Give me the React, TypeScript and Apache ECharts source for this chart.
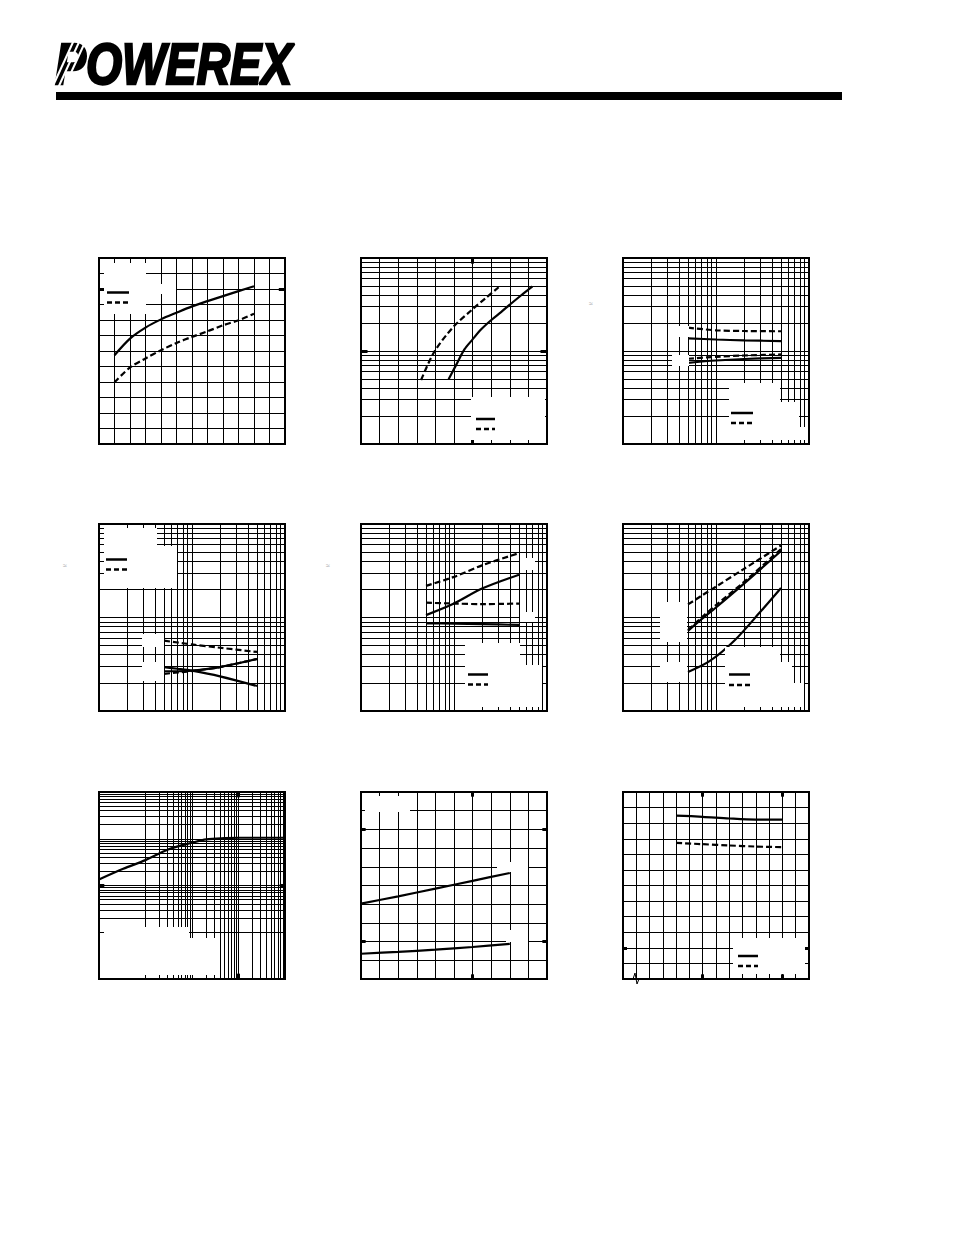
import React, { useEffect, useRef } from "react";
import * as echarts from "echarts";

// ---------- data ----------
// Chart 1 (linear / linear)
const c1X = [1, 2, 3, 4, 5, 6, 7, 8, 9, 10];
const c1Solid = [5.73, 6.8, 7.51, 8.04, 8.47, 8.88, 9.22, 9.54, 9.86, 10.18];
const c1Dashed = [3.98, 4.94, 5.52, 6.05, 6.52, 6.91, 7.27, 7.66, 7.98, 8.41];

// Chart 2 (linear x / log y)
const c2DashedX = [3.23, 3.94, 4.96, 5.97, 6.7, 7.4];
const c2DashedY = [4.88, 9.8, 18.1, 27.8, 37, 48.5];
const c2SolidX = [4.71, 5.11, 5.56, 5.97, 6.45, 6.99, 7.53, 8.06, 8.6, 9.22];
const c2SolidY = [4.96, 7.05, 10.4, 13.1, 17, 21.4, 26.2, 32.2, 39.5, 49.5];

// Chart 3 (log / log)
const c3X = [5, 10, 20, 50];
const c3UpperDashed = [17.8, 16.7, 16.4, 16.3];
const c3UpperSolid = [13.7, 13.3, 13.0, 12.8];
const c3LowerDashed = [8.25, 8.66, 8.95, 9.18];
const c3LowerSolid = [7.47, 7.9, 8.2, 8.45];

// Chart 4 (log / log)
const c4X = [5, 7, 10, 20, 50];
const c4UpperDashed = [5.65, 5.4, 5.15, 4.75, 4.28];
const c4FallingSolid = [2.94, 2.83, 2.7, 2.35, 1.85];
const c4RisingSolid = [2.66, 2.66, 2.7, 2.95, 3.6];
const c4LowerDashed = [2.5, 2.58, 2.68, 2.95, 3.6];

// Chart 5 (log / log)
const c5X = [5, 10, 20, 50];
const c5UpperDashed = [21.8, 27.2, 36.1, 48.8];
const c5UpperSolid = [10.6, 14.1, 20.4, 28.7];
const c5LowerDashed = [14.4, 14.1, 13.9, 14.1];
const c5LowerSolid = [8.67, 8.6, 8.5, 8.32];

// Chart 6 (log / log)
const c6X = [5, 7, 10, 20, 50];
const c6TopDashed = [13.8, 17.1, 21.4, 33.1, 58.9];
const c6MidDashed = [7.35, 10.0, 13.6, 24.0, 54.0];
const c6UpperSolid = [7.2, 9.6, 12.8, 23.0, 51.4];
const c6LowerSolidX = [5, 8.6, 16, 30, 50];
const c6LowerSolid = [2.61, 3.43, 5.75, 11.5, 20.7];

// Chart 7 (log / log, 4 decades)
const c7X = [0.001, 0.00332, 0.01, 0.0306, 0.1, 0.203, 0.5, 1, 10];
const c7Y = [0.1346, 0.2275, 0.349, 0.59, 0.82, 0.968, 1.03, 1.05, 1.05];

// Chart 8 (linear / linear)
const c8X = [0, 2, 4, 6, 8];
const c8Upper = [4.03, 4.42, 4.83, 5.25, 5.67];
const c8Lower = [1.35, 1.45, 1.57, 1.71, 1.88];

// Chart 9 (linear / linear)
const c9X = [4, 6, 8, 10, 12];
const c9Solid = [10.49, 10.41, 10.3, 10.23, 10.23];
const c9Dashed = [8.74, 8.65, 8.57, 8.5, 8.46];

const logoText = "POWEREX";

// ---------- helpers ----------
const pairs = (xs: number[], ys: number[]) => xs.map((x, i) => [x, ys[i]]);

// minor grid lines 2..9 of each decade between 10^e0 and 10^e1
const logMinors = (e0: number, e1: number) => {
  const out: number[] = [];
  for (let e = e0; e < e1; e++) {
    for (let k = 2; k <= 9; k++) out.push(k * Math.pow(10, e));
  }
  return out;
};

type AxisDef = { type: "value" | "log"; min: number; max: number; interval?: number };
const lin = (min: number, max: number): AxisDef => ({ type: "value", min, max, interval: 1 });
const lg = (min: number, max: number): AxisDef => ({ type: "log", min, max });

const grids = [
  { left: 99, top: 258, h: 186, x: lin(0, 12), y: lin(0, 12) },
  { left: 361, top: 258, h: 186, x: lin(0, 10), y: lg(1, 100) },
  { left: 623, top: 258, h: 186, x: lg(1, 100), y: lg(1, 100) },
  { left: 99, top: 524, h: 187, x: lg(1, 100), y: lg(1, 100) },
  { left: 361, top: 524, h: 187, x: lg(1, 100), y: lg(1, 100) },
  { left: 623, top: 524, h: 187, x: lg(1, 100), y: lg(1, 100) },
  { left: 99, top: 792, h: 187, x: lg(0.001, 10), y: lg(0.001, 10) },
  { left: 361, top: 792, h: 187, x: lin(0, 10), y: lin(0, 10) },
  { left: 623, top: 792, h: 187, x: lin(0, 14), y: lin(0, 12) },
];

// bold tick marks (data coordinates of short segments)
const boldTicks: number[][][][] = [
  [[[0, 10], [0.4, 10]], [[11.6, 10], [12, 10]]],
  [[[0, 10], [0.35, 10]], [[9.65, 10], [10, 10]], [[6, 1], [6, 1.15]], [[6, 87], [6, 100]]],
  [], [], [], [],
  [[[1, 0.001], [1, 0.0013]], [[1, 7.7], [1, 10]], [[0.001, 0.1], [0.0013, 0.1]], [[7.7, 0.1], [10, 0.1]]],
  [[[6, 0], [6, 0.25]], [[6, 9.75], [6, 10]], [[0, 2], [0.25, 2]], [[9.75, 2], [10, 2]], [[0, 8], [0.25, 8]], [[9.75, 8], [10, 8]]],
  [[[6, 0], [6, 0.3]], [[6, 11.7], [6, 12]], [[12, 0], [12, 0.3]], [[12, 11.7], [12, 12]], [[0, 2], [0.3, 2]], [[13.7, 2], [14, 2]]],
];

const axisOpt = (a: AxisDef, gi: number) => ({
  gridIndex: gi,
  type: a.type,
  min: a.min,
  max: a.max,
  ...(a.type === "value" ? { interval: a.interval } : { logBase: 10 }),
  axisLine: { show: false },
  axisTick: { show: false },
  axisLabel: { show: false },
  splitLine: { show: true, lineStyle: { color: "#000", width: 1 } },
});

const curve = (gi: number, xs: number[], ys: number[], dashed: boolean) => ({
  type: "line",
  xAxisIndex: gi,
  yAxisIndex: gi,
  data: pairs(xs, ys),
  smooth: 0.3,
  symbol: "none",
  silent: true,
  z: 3,
  lineStyle: { color: "#000", width: 2.2, type: dashed ? [6, 3] : "solid" },
});

// white areas where the original labels were removed (pixel boxes)
const whiteBoxes = [
  [104, 263, 42, 51], [146, 284, 30, 10],
  [471, 397, 74, 43],
  [729, 383, 51, 57], [780, 402, 19, 38], [799, 427, 6, 13], [679, 326, 10, 11], [672, 355, 17, 11],
  [104, 528, 53, 60], [157, 546, 20, 42], [142, 634, 22, 13], [142, 662, 22, 19],
  [465, 643, 55, 64], [520, 665, 22, 42], [520, 558, 15, 12], [520, 612, 15, 10],
  [725, 647, 55, 60], [780, 662, 12, 45], [792, 683, 12, 24], [660, 602, 27, 40], [660, 662, 27, 20],
  [104, 927, 85, 48], [189, 938, 30, 37],
  [365, 796, 45, 16], [497, 862, 31, 10], [506, 930, 22, 12],
  [733, 938, 72, 36],
];

// legend sample strokes [x1, x2, ySolid, yDashed]
const legendKeys = [
  [107, 129, 292.5, 302.5],
  [476, 495, 419, 429],
  [731, 753, 413, 423],
  [106, 127, 559.5, 569.5],
  [468, 488, 674.5, 684.5],
  [729, 750, 674.5, 685],
  [738, 758, 956, 966],
];

export default function App() {
  const ref = useRef<HTMLDivElement>(null);

  useEffect(() => {
    if (!ref.current) return;
    const chart = echarts.init(ref.current, undefined, { renderer: "svg" });

    const grid = grids.map((g) => ({
      left: g.left,
      top: g.top,
      width: 186,
      height: g.h,
      show: true,
      borderColor: "#000",
      borderWidth: 2,
      backgroundColor: "transparent",
    }));
    const xAxis = grids.map((g, i) => axisOpt(g.x, i));
    const yAxis = grids.map((g, i) => axisOpt(g.y, i));

    const series: any[] = [];
    // minor log grid lines + bold ticks
    grids.forEach((g, i) => {
      const ml: any[] = [];
      if (g.x.type === "log") {
        const e0 = Math.round(Math.log10(g.x.min));
        const e1 = Math.round(Math.log10(g.x.max));
        logMinors(e0, e1).forEach((v) => ml.push({ xAxis: v }));
      }
      if (g.y.type === "log") {
        const e0 = Math.round(Math.log10(g.y.min));
        const e1 = Math.round(Math.log10(g.y.max));
        logMinors(e0, e1).forEach((v) => ml.push({ yAxis: v }));
      }
      if (ml.length) {
        series.push({
          type: "line",
          xAxisIndex: i,
          yAxisIndex: i,
          data: [[g.x.min, g.y.min]],
          symbol: "none",
          silent: true,
          lineStyle: { width: 0 },
          markLine: {
            silent: true,
            symbol: ["none", "none"],
            animation: false,
            label: { show: false },
            lineStyle: { color: "#000", width: 1, type: "solid" },
            data: ml,
          },
        });
      }
      const bt = boldTicks[i];
      if (bt.length) {
        series.push({
          type: "line",
          xAxisIndex: i,
          yAxisIndex: i,
          data: [[g.x.min, g.y.min]],
          symbol: "none",
          silent: true,
          lineStyle: { width: 0 },
          markLine: {
            silent: true,
            symbol: ["none", "none"],
            animation: false,
            label: { show: false },
            lineStyle: { color: "#000", width: 3, type: "solid" },
            data: bt.map((seg) => [{ coord: seg[0] }, { coord: seg[1] }]),
          },
        });
      }
    });

    series.push(curve(0, c1X, c1Solid, false), curve(0, c1X, c1Dashed, true));
    series.push(curve(1, c2DashedX, c2DashedY, true), curve(1, c2SolidX, c2SolidY, false));
    series.push(
      curve(2, c3X, c3UpperDashed, true),
      curve(2, c3X, c3UpperSolid, false),
      curve(2, c3X, c3LowerDashed, true),
      curve(2, c3X, c3LowerSolid, false)
    );
    series.push(
      curve(3, c4X, c4UpperDashed, true),
      curve(3, c4X, c4FallingSolid, false),
      curve(3, c4X, c4RisingSolid, false),
      curve(3, c4X, c4LowerDashed, true)
    );
    series.push(
      curve(4, c5X, c5UpperDashed, true),
      curve(4, c5X, c5UpperSolid, false),
      curve(4, c5X, c5LowerDashed, true),
      curve(4, c5X, c5LowerSolid, false)
    );
    series.push(
      curve(5, c6X, c6TopDashed, true),
      curve(5, c6X, c6MidDashed, true),
      curve(5, c6X, c6UpperSolid, false),
      curve(5, c6LowerSolidX, c6LowerSolid, false)
    );
    series.push(curve(6, c7X, c7Y, false));
    series.push(curve(7, c8X, c8Upper, false), curve(7, c8X, c8Lower, false));
    series.push(curve(8, c9X, c9Solid, false), curve(8, c9X, c9Dashed, true));

    const graphic: any[] = [];
    whiteBoxes.forEach(([x, y, w, h]) =>
      graphic.push({ type: "rect", z: 10, silent: true, shape: { x, y, width: w, height: h }, style: { fill: "#fff" } })
    );
    legendKeys.forEach(([x1, x2, ys, yd]) => {
      graphic.push({ type: "line", z: 11, silent: true, shape: { x1, y1: ys, x2, y2: ys }, style: { stroke: "#000", lineWidth: 2.5 } });
      graphic.push({
        type: "line", z: 11, silent: true,
        shape: { x1, y1: yd, x2, y2: yd },
        style: { stroke: "#000", lineWidth: 2.5, lineDash: [5, 3] },
      });
    });
    // axis break on chart 9
    graphic.push({
      type: "polyline", z: 11, silent: true,
      shape: { points: [[630, 979], [633, 979], [635, 973], [637, 984], [639, 979], [642, 979]] },
      style: { stroke: "#000", lineWidth: 1, fill: "none" },
    });
    // residual small marks
    [[591, 303], [65, 565], [328, 565]].forEach(([x, y]) =>
      graphic.push({ type: "text", z: 11, silent: true, x, y, style: { text: "≈", fontSize: 7, fill: "#999", align: "center", verticalAlign: "middle" } })
    );
    // header: logo and rule
    graphic.push({
      type: "text", z: 11, silent: true, x: 55, y: 64, scaleX: 0.8,
      style: {
        text: logoText,
        font: 'italic 900 58px "Liberation Sans", Arial, sans-serif',
        fill: "#000", stroke: "#000", lineWidth: 2.5,
        align: "left", verticalAlign: "middle",
      },
    });
    [0, 1, 2].forEach((i) =>
      graphic.push({
        type: "line", z: 12, silent: true,
        shape: { x1: 52 + i * 6, y1: 88, x2: 74 + i * 6, y2: 40 },
        style: { stroke: "#fff", lineWidth: 2 },
      })
    );
    graphic.push({ type: "rect", z: 11, silent: true, shape: { x: 56, y: 92, width: 786, height: 8 }, style: { fill: "#000" } });

    chart.setOption({
      animation: false,
      backgroundColor: "#fff",
      grid,
      xAxis,
      yAxis,
      series,
      graphic,
    });

    return () => chart.dispose();
  }, []);

  return (
    <div
      ref={ref}
      style={{ position: "absolute", left: 0, top: 0, width: 954, height: 1235, background: "#fff" }}
    />
  );
}
